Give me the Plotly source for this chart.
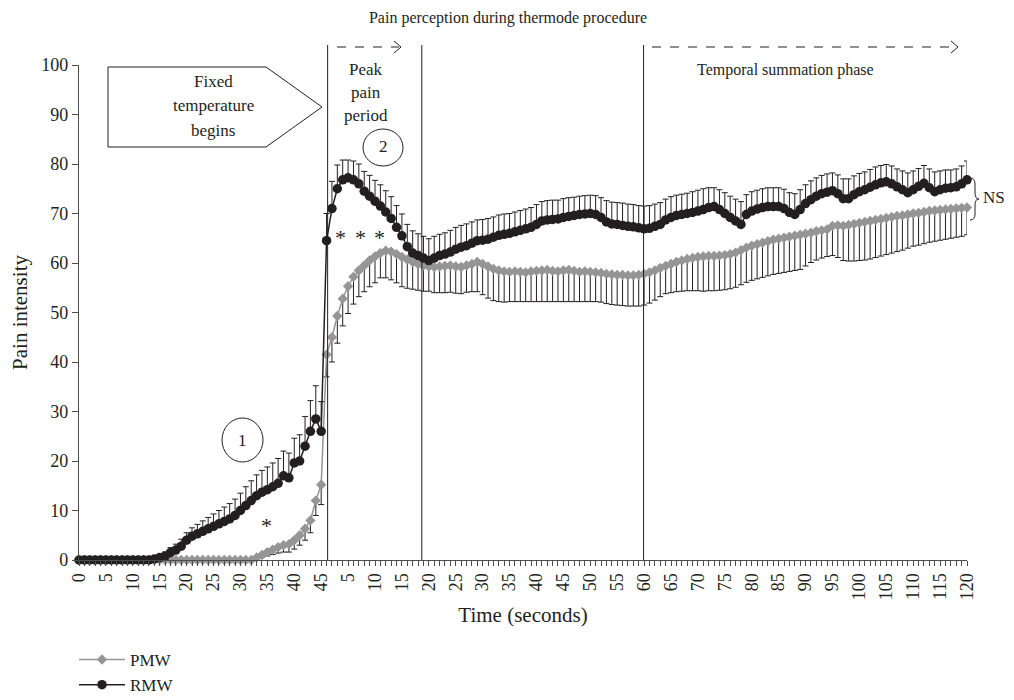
import plotly.graph_objects as go

# ---------------- data (index = one second per point) ----------------
rmw = [
    0, 0, 0, 0, 0, 0, 0, 0, 0, 0,
    0, 0, 0, 0, 0.2, 0.5, 0.8, 1.5, 2.0, 2.8,
    4.0, 4.8, 5.3, 5.8, 6.3, 6.8, 7.3, 7.8, 8.3, 9.0,
    10.0, 11.0, 12.0, 13.0, 13.7, 14.2, 14.8, 15.5, 17.0, 16.6,
    19.6, 20.0, 23.0, 26.0, 28.5, 26.0, 64.5, 71.0, 75.0, 76.8,
    77.2, 76.8, 76.0, 74.5, 73.5, 72.5, 71.5, 70.3, 69.0, 67.2,
    65.5, 63.3, 62.0, 61.5, 61.0, 60.5, 61.0, 61.5, 61.8, 62.2,
    62.8, 63.2, 63.5, 64.0, 64.5, 64.6, 64.8, 65.2, 65.6, 65.8,
    66.0, 66.3, 66.6, 66.9, 67.2, 67.8, 68.5, 68.7, 68.8, 68.9,
    69.2, 69.4, 69.6, 69.8, 69.9, 70.0, 69.8, 69.2, 68.3, 67.9,
    67.8, 67.6, 67.4, 67.3, 67.1, 66.9, 67.0, 67.4, 67.8, 68.7,
    69.2, 69.6, 69.8, 70.0, 70.2, 70.5, 70.8, 71.2, 71.4, 70.8,
    70.0, 69.2, 68.5, 67.8, 69.8, 70.5, 70.9, 71.2, 71.4, 71.4,
    71.4, 71.0, 70.2, 69.8, 70.8, 72.0, 72.8, 73.5, 74.0, 74.3,
    74.6, 74.0, 73.0, 73.0, 73.8, 74.4, 74.8, 75.3, 75.8, 76.2,
    76.4, 76.0, 75.4, 74.8, 74.2, 74.8, 75.5, 76.1, 75.2, 74.4,
    74.8, 75.1, 75.2, 75.4, 76.0, 76.8,
]
rmw_err_plus = [
    0, 0, 0, 0, 0, 0, 0, 0, 0, 0,
    0, 0, 0, 0, 0.3, 0.5, 0.8, 1.0, 1.2, 1.4,
    1.5, 1.7, 1.9, 2.1, 2.3, 2.5, 2.7, 2.9, 3.1, 3.3,
    3.5, 3.8, 4.0, 4.2, 4.4, 4.6, 4.8, 5.0, 5.0, 5.0,
    5.0, 5.3, 6.0, 6.2, 6.7, 6.0, 5.5, 5.5, 4.8, 4.0,
    3.6, 3.8, 4.0, 4.0, 4.2, 4.2, 4.3, 4.3, 4.4, 4.4,
    4.4, 4.5, 4.5, 4.4, 4.4, 4.4, 4.4, 4.3, 4.3, 4.4,
    4.4, 4.4, 4.4, 4.3, 4.2, 4.2, 4.2, 4.1, 4.1, 4.1,
    4.0, 4.0, 4.0, 4.0, 4.0, 4.0, 3.9, 3.9, 3.9, 3.8,
    3.8, 3.8, 3.7, 3.7, 3.7, 3.7, 3.8, 4.0, 4.3, 4.4,
    4.4, 4.5, 4.5, 4.5, 4.5, 4.6, 4.6, 4.5, 4.4, 4.2,
    4.2, 4.1, 4.1, 4.1, 4.2, 4.2, 4.2, 4.0, 3.8, 4.0,
    4.2, 4.3, 4.4, 4.6, 4.0, 3.9, 3.8, 3.8, 3.8, 3.8,
    3.8, 3.9, 4.0, 4.2, 4.0, 3.8, 3.8, 3.7, 3.7, 3.7,
    3.6, 3.8, 4.0, 4.0, 3.8, 3.7, 3.6, 3.6, 3.6, 3.5,
    3.5, 3.6, 3.6, 3.8, 4.0, 3.8, 3.6, 3.6, 3.8, 4.0,
    3.8, 3.7, 3.6, 3.6, 3.6, 3.8,
]
pmw = [
    0, 0, 0, 0, 0, 0, 0, 0, 0, 0,
    0, 0, 0, 0, 0, 0, 0, 0, 0, 0,
    0, 0, 0, 0, 0, 0, 0, 0, 0, 0,
    0, 0, 0, 0.5, 1.0, 1.6, 2.1, 2.6, 3.0, 3.2,
    4.0, 5.0, 6.3, 8.0, 12.0, 15.2, 41.5, 45.0, 49.3, 52.8,
    55.3, 57.2, 58.5, 59.5, 60.5, 61.3, 62.0, 62.5, 62.3, 61.8,
    61.2, 60.7, 60.2, 59.8, 59.5, 59.3, 59.2, 59.3, 59.4, 59.5,
    59.3, 59.2, 59.5, 59.8, 60.2, 59.8, 59.3, 58.8, 58.5, 58.3,
    58.2, 58.3, 58.2, 58.1, 58.3, 58.4, 58.5, 58.6, 58.4, 58.3,
    58.5, 58.6, 58.4, 58.2, 58.3, 58.2, 58.1, 58.0, 57.8, 57.7,
    57.6, 57.6, 57.5, 57.5, 57.6, 57.8, 58.1, 58.5, 59.0, 59.4,
    59.8, 60.2, 60.5, 60.8, 61.0, 61.2, 61.3, 61.4, 61.4, 61.5,
    61.6, 61.8, 62.1, 62.6, 63.1, 63.5, 63.8, 64.1, 64.4, 64.7,
    64.9, 65.1, 65.3, 65.5, 65.7, 65.9, 66.1, 66.4, 66.6, 66.8,
    67.5, 67.6, 67.5, 67.7, 67.9, 68.1, 68.3, 68.5, 68.7, 68.9,
    69.1, 69.3, 69.5, 69.6, 69.8, 70.0, 70.1, 70.3, 70.5, 70.6,
    70.7, 70.8, 70.9, 71.0, 71.1, 71.2,
]
pmw_err_minus = [
    0, 0, 0, 0, 0, 0, 0, 0, 0, 0,
    0, 0, 0, 0, 0, 0, 0, 0, 0, 0,
    0, 0, 0, 0, 0, 0, 0, 0, 0, 0,
    0, 0, 0, 0.3, 0.5, 0.8, 1.0, 1.2, 1.4, 1.6,
    1.8, 2.0, 2.3, 2.5, 3.0, 4.0, 4.5, 5.0, 5.5, 5.5,
    5.5, 5.5, 5.3, 5.3, 5.3, 5.3, 5.0, 5.5, 5.7, 5.8,
    6.0, 5.8, 5.5, 5.3, 5.2, 5.0, 5.2, 5.3, 5.4, 5.4,
    5.4, 5.4, 5.4, 5.6, 6.0, 6.2, 6.4, 6.4, 6.3, 6.2,
    6.0, 6.1, 6.0, 5.9, 6.1, 6.2, 6.3, 6.4, 6.2, 6.1,
    6.3, 6.4, 6.2, 6.0, 6.1, 6.0, 5.9, 5.9, 6.0, 6.1,
    6.1, 6.2, 6.2, 6.2, 6.3, 6.3, 6.2, 6.0, 5.8, 5.6,
    5.8, 6.0, 6.2, 6.4, 6.6, 6.8, 7.0, 7.0, 7.0, 7.0,
    7.0, 7.0, 7.0, 7.0, 7.0, 7.0, 7.0, 7.0, 7.0, 7.0,
    7.0, 7.0, 7.0, 7.0, 7.0, 6.5, 6.0, 5.8, 5.6, 5.5,
    6.0, 6.5, 7.0, 7.3, 7.5, 7.6, 7.7, 7.7, 7.6, 7.5,
    7.4, 7.3, 7.2, 7.0, 6.8, 6.6, 6.5, 6.4, 6.3, 6.2,
    6.1, 6.0, 5.9, 5.8, 5.7, 5.5,
]
tick_positions = list(range(0, 166, 5))
tick_labels = ["0", "5", "10", "15", "20", "25", "30", "35", "40", "45",
               "5", "10", "15",
               "20", "25", "30", "35", "40", "45", "50", "55", "60", "65",
               "70", "75", "80", "85", "90", "95", "100", "105", "110",
               "115", "120"]
phase_lines = [46.2, 63.7, 104.9]
y_ticks = [0, 10, 20, 30, 40, 50, 60, 70, 80, 90, 100]

# ---------------- layout helpers ----------------
# the page draws the figure 8 px in from the window's top-left corner,
# so the figure is made 8 px smaller and every page position shifted.
OFF = 8
W, H = 1014 - OFF, 700 - OFF
L, R, T, B = 79, 967, 65, 560          # plot area in page pixels
FONT = "Liberation Serif"
INK = "#231f20"
GRAY = "#959595"


def px(x):
    return (x - L) / (R - L)


def py(y):
    return (B - y) / (B - T)


x_idx = list(range(len(rmw)))

fig = go.Figure()
fig.add_trace(go.Scatter(
    x=x_idx, y=pmw, name="PMW", mode="lines+markers",
    line=dict(color=GRAY, width=1.5),
    marker=dict(symbol="diamond", size=8, color=GRAY),
    error_y=dict(type="data", symmetric=False,
                 array=[0] * len(pmw), arrayminus=pmw_err_minus,
                 color=INK, thickness=1, width=3),
    cliponaxis=False,
))
fig.add_trace(go.Scatter(
    x=x_idx, y=rmw, name="RMW", mode="lines+markers",
    line=dict(color=INK, width=1.5),
    marker=dict(symbol="circle", size=9.5, color=INK),
    error_y=dict(type="data", symmetric=False,
                 array=rmw_err_plus, arrayminus=[0] * len(rmw),
                 color=INK, thickness=1, width=3),
    cliponaxis=False,
))

shapes = []
for xv in phase_lines:
    shapes.append(dict(type="line", xref="x", yref="paper", x0=xv, x1=xv,
                       y0=0, y1=py(45), line=dict(color=INK, width=1)))


def seg(x0, y0, x1, y1, dash="solid", w=1):
    return dict(type="line", xref="paper", yref="paper",
                x0=px(x0), y0=py(y0), x1=px(x1), y1=py(y1),
                line=dict(color=INK, width=w, dash=dash))


# dashed arrows
shapes.append(seg(337, 47, 399, 47, dash="dash"))
shapes.append(seg(394, 41, 401, 47))
shapes.append(seg(394, 53, 401, 47))
shapes.append(seg(652, 47, 956, 47, dash="dash"))
shapes.append(seg(951, 41, 958, 47))
shapes.append(seg(951, 53, 958, 47))

# pentagon box
pts = [(108, 67), (266, 67), (322, 107), (266, 147), (108, 147)]
path = "M " + " L ".join(f"{px(a):.5f},{py(b):.5f}" for a, b in pts) + " Z"
shapes.append(dict(type="path", xref="paper", yref="paper", path=path,
                   line=dict(color=INK, width=1)))

# circles
shapes.append(dict(type="circle", xref="paper", yref="paper",
                   x0=px(222), x1=px(263), y0=py(462), y1=py(418),
                   line=dict(color=INK, width=1)))
shapes.append(dict(type="circle", xref="paper", yref="paper",
                   x0=px(363), x1=px(403), y0=py(166), y1=py(129),
                   line=dict(color=INK, width=1)))

# brace for NS
bx = 970
bp = [
    f"M {px(bx):.5f},{py(178):.5f}",
    f"Q {px(bx+5):.5f},{py(178):.5f} {px(bx+5):.5f},{py(184):.5f}",
    f"L {px(bx+5):.5f},{py(193):.5f}",
    f"Q {px(bx+5):.5f},{py(199):.5f} {px(bx+9):.5f},{py(199):.5f}",
    f"Q {px(bx+5):.5f},{py(199):.5f} {px(bx+5):.5f},{py(205):.5f}",
    f"L {px(bx+5):.5f},{py(214):.5f}",
    f"Q {px(bx+5):.5f},{py(220):.5f} {px(bx):.5f},{py(220):.5f}",
]
shapes.append(dict(type="path", xref="paper", yref="paper", path=" ".join(bp),
                   line=dict(color=INK, width=1)))

annotations = []


def txt(s, x, y, size=17):
    annotations.append(dict(text=s, xref="paper", yref="paper",
                            x=px(x), y=py(y), xanchor="center", yanchor="middle",
                            showarrow=False,
                            font=dict(family=FONT, size=size, color=INK)))


txt("Fixed", 213, 81)
txt("temperature", 213, 106)
txt("begins", 213, 131)
txt("Peak", 366, 69)
txt("pain", 366, 92)
txt("period", 366, 115)
txt("Temporal summation phase", 785, 70, 16)
txt("1", 242, 440)
txt("2", 383, 147)
txt("*", 266, 525, 22)
txt("*", 340, 237, 22)
txt("*", 360, 237, 22)
txt("*", 379, 237, 22)
txt("NS", 994, 198)

fig.update_layout(
    width=W, height=H,
    margin=dict(l=L - OFF, r=W - (R - OFF), t=T - OFF, b=H - (B - OFF),
                pad=0, autoexpand=False),
    paper_bgcolor="white", plot_bgcolor="white",
    font=dict(family=FONT, size=16, color=INK),
    title=dict(text="Pain perception during thermode procedure",
               x=px(508), xref="paper", xanchor="center",
               y=1 - (17 - OFF) / H, yref="container", yanchor="middle",
               font=dict(family=FONT, size=16, color=INK)),
    showlegend=True,
    legend=dict(x=px(74), y=py(642), xanchor="left", yanchor="top",
                orientation="v", bgcolor="rgba(0,0,0,0)",
                font=dict(family=FONT, size=17, color=INK),
                itemwidth=46, tracegroupgap=0),
    shapes=shapes,
    annotations=annotations,
)
fig.update_xaxes(
    range=[0, 165], showgrid=False, zeroline=False,
    showline=True, linecolor="#4d4d4d", linewidth=1.2,
    tickmode="array", tickvals=tick_positions, ticktext=tick_labels,
    tickangle=-90, ticks="outside", ticklen=5, tickcolor="#4d4d4d",
    tickfont=dict(family=FONT, size=18, color=INK),
    minor=dict(tickmode="linear", tick0=0, dtick=1, ticks="outside",
               ticklen=5, tickcolor="#4d4d4d", showgrid=False),
    title=dict(text="Time (seconds)", standoff=8,
               font=dict(family=FONT, size=21, color=INK)),
)
fig.update_yaxes(
    range=[0, 100], showgrid=False, zeroline=False,
    showline=True, linecolor="#4d4d4d", linewidth=1.2,
    tickmode="array", tickvals=y_ticks,
    ticks="outside", ticklen=6, tickcolor="#4d4d4d",
    tickfont=dict(family=FONT, size=18, color=INK),
    title=dict(text="Pain intensity", standoff=10,
               font=dict(family=FONT, size=21, color=INK)),
)

fig.write_html("out.html")
